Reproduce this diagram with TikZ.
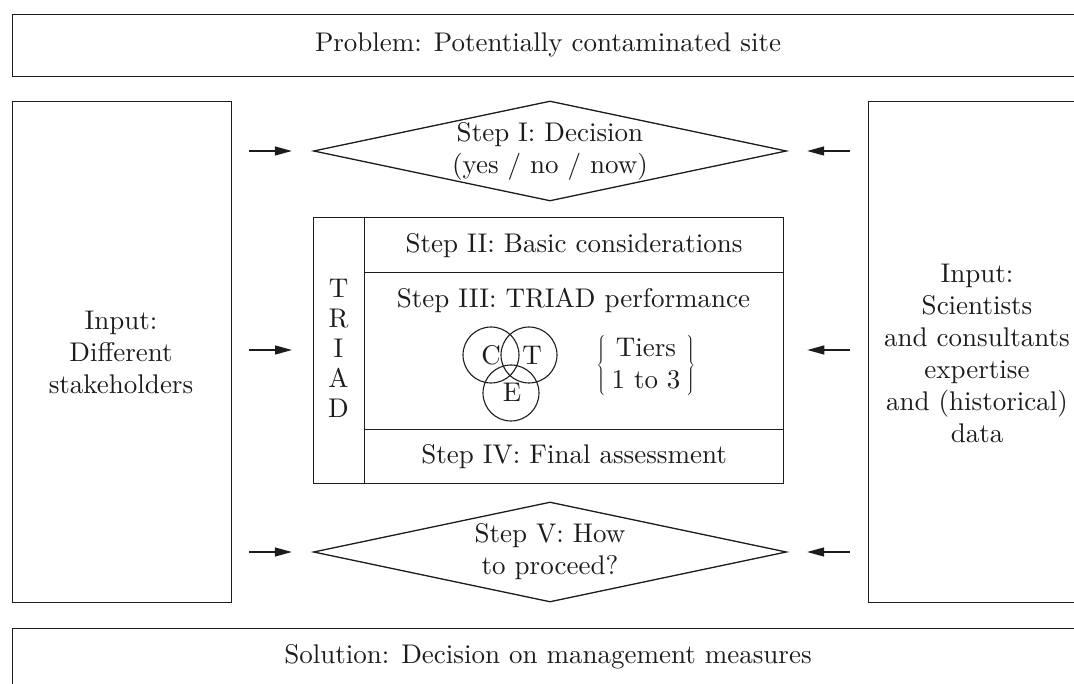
\documentclass[tikz,border=0pt]{standalone}
\usepackage{fontspec}
\setmainfont{lmroman10-regular.otf}
\usetikzlibrary{shapes.geometric,arrows.meta}
\definecolor{ink}{HTML}{1C1C1C}
\begin{document}
\begin{tikzpicture}[x=1pt,y=-1pt,
  every node/.style={text=ink, font=\fontsize{27}{32}\selectfont},
  box/.style={draw=ink, line width=1.3pt, inner sep=0pt, align=center},
  dec/.style={draw=ink, line width=1.3pt, diamond, inner sep=0pt, minimum width=473pt, minimum height=100pt},
  lbl/.style={align=center, inner sep=0pt},
  arr/.style={draw=ink, line width=1.3pt, -{Triangle[length=17pt,width=9pt]}},
  ring/.style={draw=ink, line width=1.1pt, circle, minimum size=56pt, inner sep=0pt}]
\useasboundingbox (0,0) rectangle (1074,684);
% top and bottom bands
\node[box, anchor=north west, minimum width=1090pt, minimum height=62pt] (prob) at (12,14) {};
\node[lbl] (probt) at (548,45) {Problem: Potentially contaminated site};
\node[box, anchor=north west, minimum width=1090pt, minimum height=60pt] (sol) at (12,628) {};
\node[lbl] (solt) at (548,657) {Solution: Decision on management measures};
% input boxes
\node[box, anchor=north west, minimum width=219pt, minimum height=501pt] (inl) at (12,101) {};
\node[lbl] (inlt) at (121,352) {Input:\\Different\\stakeholders};
\node[box, anchor=north west, minimum width=218pt, minimum height=501pt] (inr) at (868,101) {};
\node[lbl] (inrt) at (977,353) {Input:\\Scientists\\and consultants\\expertise\\and (historical)\\data};
% decisions
\node[dec] (d1) at (550,151) {};
\node[lbl] (d1t) at (550,151) {Step I: Decision\\(yes / no / now)};
\node[dec] (d5) at (550,552) {};
\node[lbl] (d5t) at (550,552) {Step V: How\\to proceed?};
% TRIAD block
\node[box, anchor=north west, minimum width=51pt, minimum height=266pt] (tcol) at (313,217) {};
\node[lbl, font=\fontsize{27}{30}\selectfont] (tcolt) at (338.5,348) {T\\R\\I\\A\\D};
\node[box, anchor=north west, minimum width=419pt, minimum height=55pt] (s2) at (364,217) {Step II: Basic considerations};
\node[box, anchor=north west, minimum width=419pt, minimum height=157pt] (s3) at (364,272) {};
\node[lbl] (s3t) at (573.5,300) {Step III: TRIAD performance};
\node[box, anchor=north west, minimum width=419pt, minimum height=54pt] (s4) at (364,429) {Step IV: Final assessment};
% Venn circles
\node[ring] (rc) at (491,355) {};
\node[ring] (rt) at (529,355) {};
\node[ring] (re) at (511,393) {};
\node[lbl] (lc) at (491,355) {C};
\node[lbl] (lt) at (532,355) {T};
\node[lbl] (le) at (512,392) {E};
\node[lbl] (tiers) at (646,366) {$\left\{\mbox{\begin{tabular}{@{\hspace{6pt}}c@{\hspace{6pt}}}Tiers\\1 to 3\end{tabular}}\right\}$};
% arrows
\coordinate (l1) at (249,151);
\coordinate (l2) at (249,350);
\coordinate (l3) at (249,552);
\coordinate (r1) at (850,151);
\coordinate (r2) at (850,350);
\coordinate (r3) at (850,552);
\draw[arr, shorten >=21pt] (l1) -- (d1.west);
\draw[arr, shorten >=21pt] (l2) -- (l2 -| tcol.west);
\draw[arr, shorten >=21pt] (l3) -- (d5.west);
\draw[arr, shorten >=20pt] (r1) -- (d1.east);
\draw[arr, shorten >=23pt] (r2) -- (r2 -| s3.east);
\draw[arr, shorten >=20pt] (r3) -- (d5.east);
\end{tikzpicture}
\end{document}
